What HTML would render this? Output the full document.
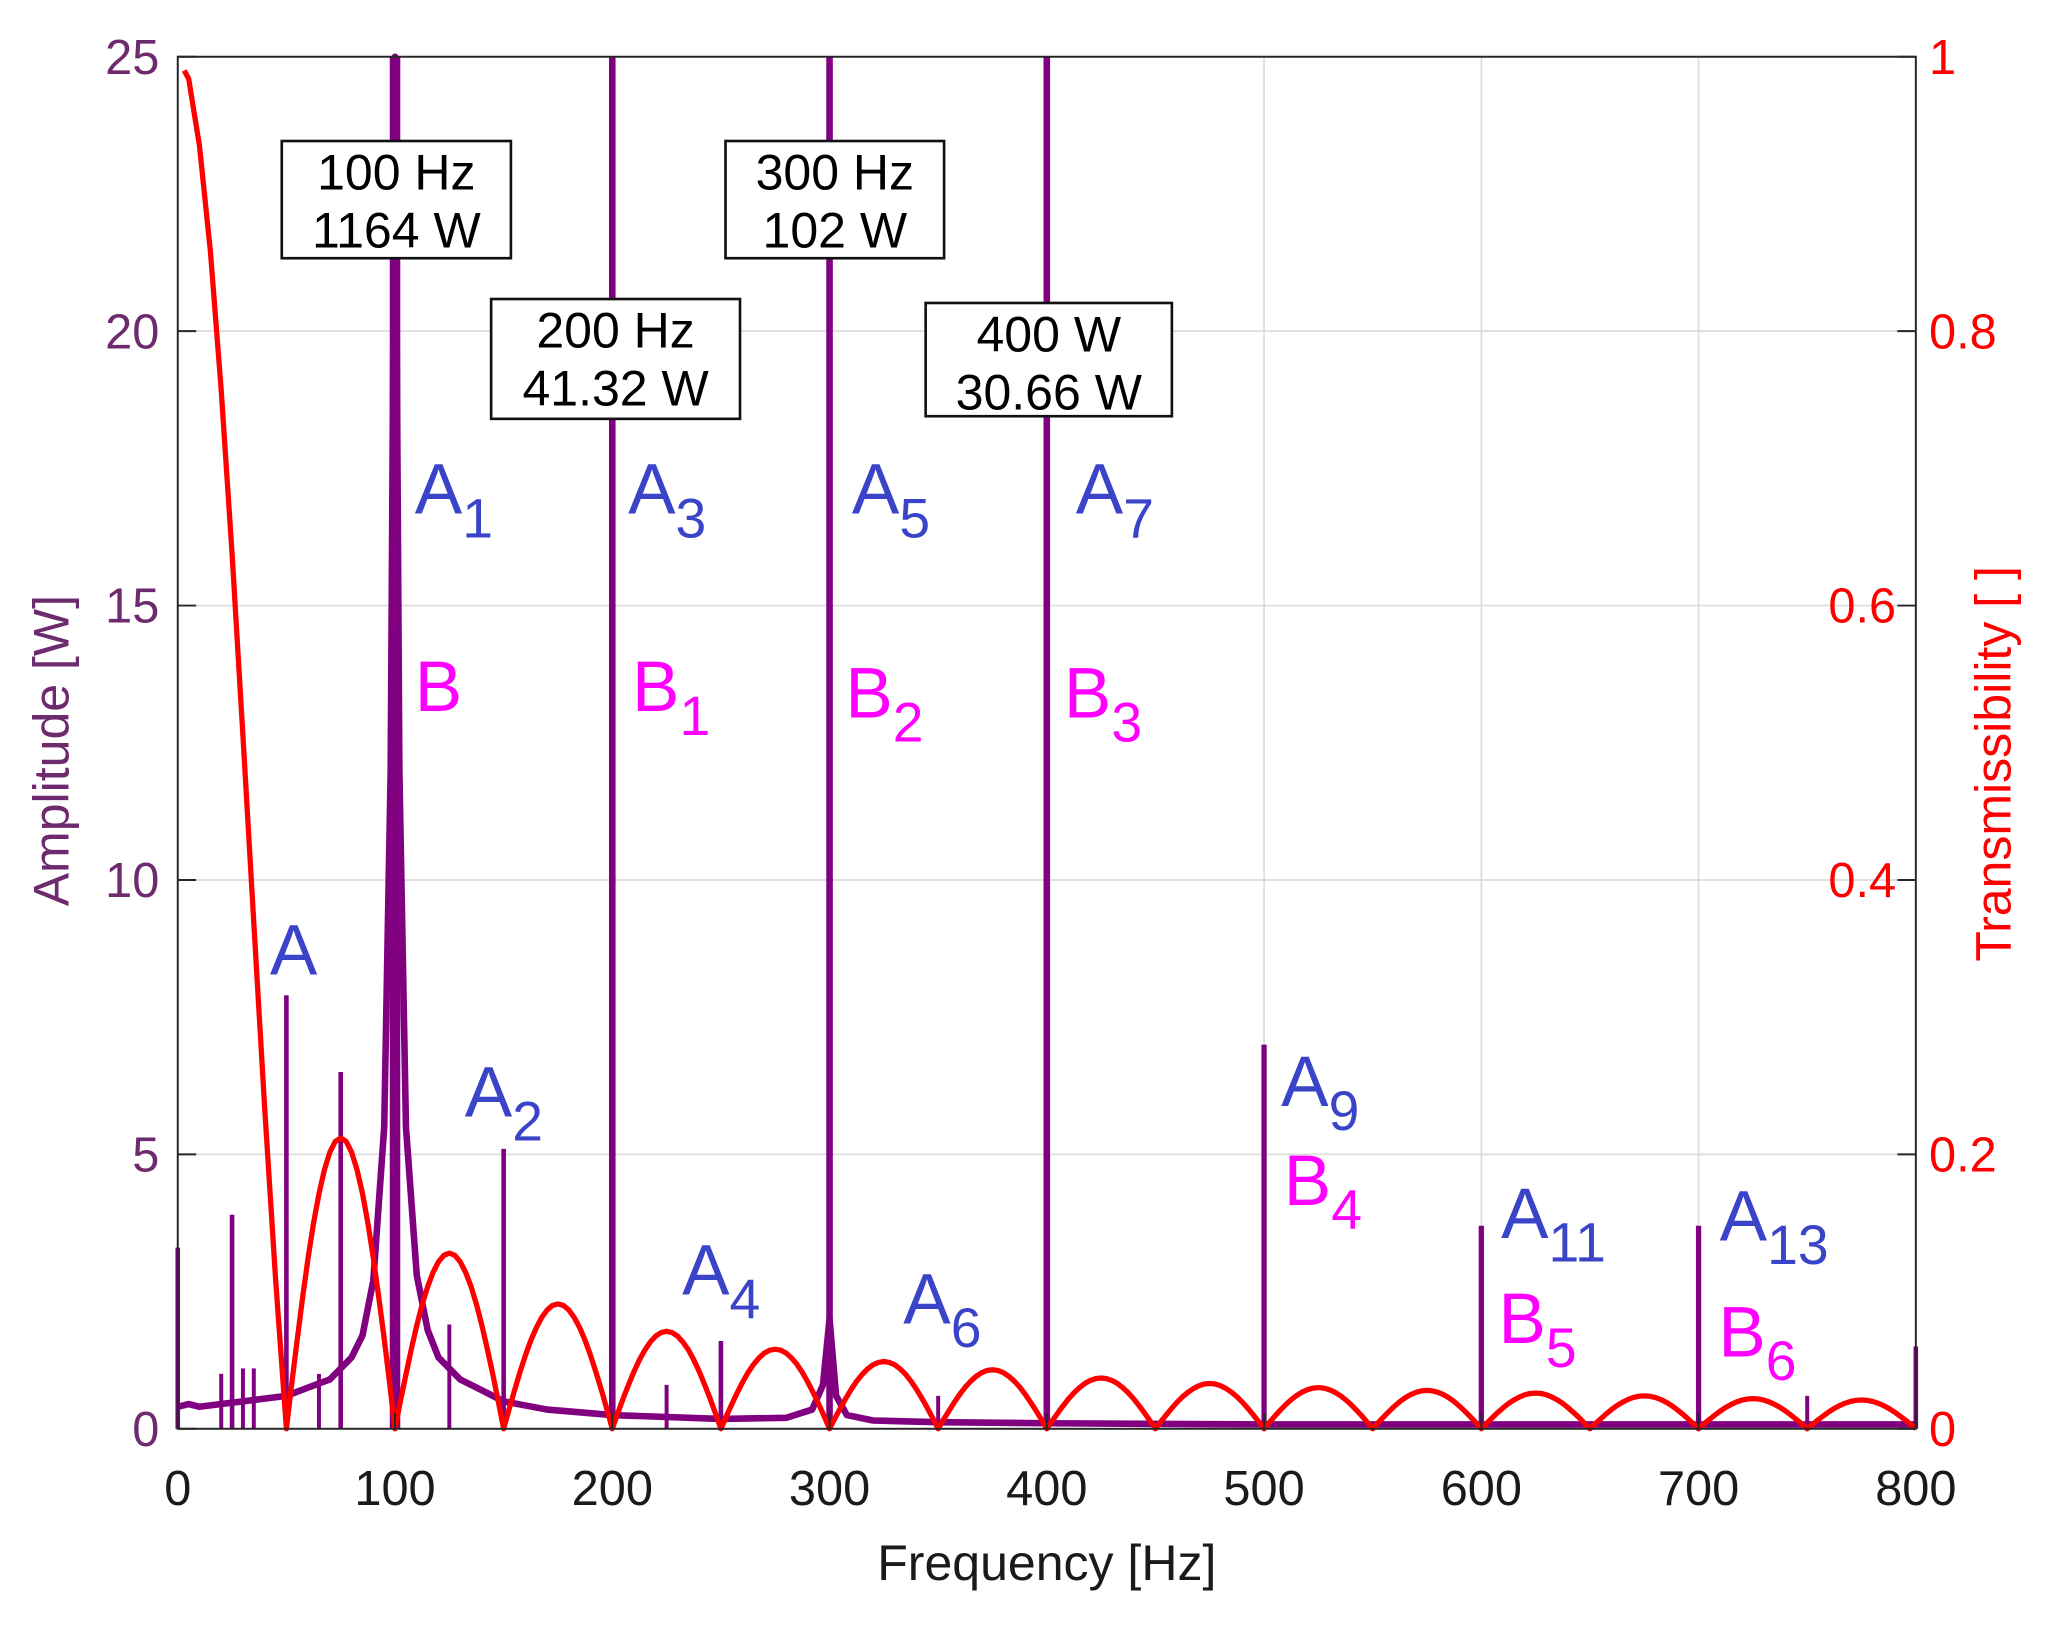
<!DOCTYPE html>
<html><head><meta charset="utf-8"><style>
html,body{margin:0;padding:0;background:#fff;}
svg{display:block;font-family:"Liberation Sans",Arial,sans-serif;}
</style></head><body>
<svg id="chart" width="2062" height="1633" viewBox="0 0 1566 1240" xmlns="http://www.w3.org/2000/svg">
<g id="grid"></g>
<g id="marks"></g>
<g id="axes"></g>
<g id="ann"></g>
</svg>
<script>
const xTicks=[0,100,200,300,400,500,600,700,800];
const yLeftTicks=[0,5,10,15,20,25];
const yRightTicks=[0,0.2,0.4,0.6,0.8,1];
const yRightLabels=["0","0.2","0.4","0.6","0.8","1"];
// amplitude spectrum: background curve (freq, W)
const bgFreq=[0,5,10,20,30,40,50,60,70,80,85,90,95,98,100,102,105,110,115,120,130,140,150,170,200,250,280,292,297,300,303,308,320,350,400,500,600,700,800];
const bgAmp=[0.4,0.45,0.4,0.45,0.5,0.55,0.6,0.75,0.9,1.3,1.7,2.7,5.5,12,25,12,5.5,2.8,1.8,1.3,0.9,0.7,0.5,0.35,0.25,0.18,0.2,0.35,0.8,2.0,0.6,0.25,0.15,0.12,0.1,0.08,0.08,0.08,0.08];
// spikes
const spikeFreq=[0,20,25,30,35,50,65,75,125,150,225,250,350,500,600,700,750,800,200,300,400,100];
const spikeAmp=[3.3,1.0,3.9,1.1,1.1,7.9,1.0,6.5,1.9,5.1,0.8,1.6,0.6,7.0,3.7,3.7,0.6,1.5,25,25,25,25];
const spikeW=[3.5,3,3.5,3,3,3.5,3,3.5,3,3.5,3,3.5,3,4,4,4,3,3.5,5,5,5,8];
// transmissibility main lobe (0..50 Hz)
const mainFreq=[3,5,10,15,20,25,30,35,40,45,50];
const mainVal=[0.99,0.984,0.935,0.858,0.757,0.637,0.505,0.368,0.234,0.109,0];
// side lobe peaks
const lobeCenter=[75,125,175,225,275,325,375,425,475,525,575,625,675,725,775];
const lobePeak=[0.212,0.128,0.091,0.071,0.058,0.049,0.043,0.037,0.033,0.030,0.028,0.026,0.024,0.022,0.021];

const L=135,R=1455,T=43,B=1085;
const X=f=>L+(f-0)/(800)*(R-L);
const YL=v=>B-v/25*(B-T);
const YR=v=>B-v/1*(B-T);
const NS="http://www.w3.org/2000/svg";
function mk(tag,attrs,parent){const e=document.createElementNS(NS,tag);for(const k in attrs)e.setAttribute(k,attrs[k]);parent.appendChild(e);return e;}
const grid=document.getElementById('grid'),marks=document.getElementById('marks'),axes=document.getElementById('axes');

xTicks.forEach(t=>{if(t>0&&t<800){const g=mk('line',{x1:X(t),x2:X(t),y1:T,y2:B,stroke:'#dcdcdc','stroke-width':1.3},grid);

}});
yLeftTicks.forEach(t=>{if(t>0&&t<25){const g=mk('line',{x1:L,x2:R,y1:YL(t),y2:YL(t),stroke:'#dcdcdc','stroke-width':1.3},grid);

}});

let d=bgFreq.map((f,i)=>(i?'L':'M')+X(f).toFixed(1)+','+YL(Math.min(bgAmp[i],25.2)).toFixed(1)).join(' ');
const bg=mk('path',{d:d,fill:'none',stroke:'#800080','stroke-width':5,'stroke-linejoin':'round'},marks);


spikeFreq.forEach((f,i)=>{const s=mk('line',{x1:X(f),x2:X(f),y1:YL(0),y2:YL(spikeAmp[i]),stroke:'#800080','stroke-width':spikeW[i]},marks);

});

let td=mainFreq.map((f,i)=>(i?'L':'M')+X(f).toFixed(1)+','+YR(mainVal[i]).toFixed(1)).join(' ');
lobeCenter.forEach((c,i)=>{for(let k=0;k<=20;k++){const f=c-25+k*2.5;const v=lobePeak[i]*Math.sin(Math.PI*k/20);td+=' L'+X(f).toFixed(1)+','+YR(v).toFixed(1);}});
const tr=mk('path',{d:td,fill:'none',stroke:'#ff0000','stroke-width':4,'stroke-linejoin':'round'},marks);



const box=mk('rect',{x:L,y:T,width:R-L,height:B-T,fill:'none',stroke:'#262626','stroke-width':1.5},axes);


xTicks.forEach(t=>{const tk=mk('line',{x1:X(t),x2:X(t),y1:B,y2:B-12,stroke:'#262626','stroke-width':1.5},axes);


const tx=mk('text',{x:X(t),y:B+58,'font-size':37,'text-anchor':'middle',fill:'#1a1a1a'},axes);tx.textContent=t;

});
yLeftTicks.forEach(t=>{const tk=mk('line',{x1:L,x2:L+14,y1:YL(t),y2:YL(t),stroke:'#262626','stroke-width':1.5},axes);


const tx=mk('text',{x:L-14,y:YL(t)+13,'font-size':37,'text-anchor':'end',fill:'#6e2a6e'},axes);tx.textContent=t;

});
yRightTicks.forEach((t,i)=>{const tk=mk('line',{x1:R,x2:R-14,y1:YR(t),y2:YR(t),stroke:'#262626','stroke-width':1.5},axes);


const inside=(t>0.3&&t<0.7);
const tx=mk('text',{x:inside?R-15:R+10,y:YR(t)+13,'font-size':37,'text-anchor':inside?'end':'start',fill:'#ff0000'},axes);tx.textContent=yRightLabels[i];

});
</script>
<script>
(function(){
const NS="http://www.w3.org/2000/svg";const svg=document.getElementById('chart');
function t(x,y,s,fill,txt,name,anchor,rot){const e=document.createElementNS(NS,'text');e.setAttribute('x',x);e.setAttribute('y',y);e.setAttribute('font-size',s);e.setAttribute('fill',fill);e.setAttribute('text-anchor',anchor||'start');if(rot)e.setAttribute('transform',rot);e.textContent=txt;


svg.appendChild(e);return e;}
t(795,1200,38,'#1a1a1a','Frequency [Hz]','x-axis-title','middle');
t(52,570,38,'#6e2a6e','Amplitude [W]','y-left-axis-title','middle','rotate(-90 52 570)');
t(1527,580,38,'#ff0000','Transmissibility [ ]','y-right-axis-title','middle','rotate(-90 1527 580)');
const boxes=[[214,107,174,89,'100 Hz','1164 W'],[373,227,189,91,'200 Hz','41.32 W'],[551,107,166,89,'300 Hz','102 W'],[703,230,187,86,'400 W','30.66 W']];
boxes.forEach(b=>{const r=document.createElementNS(NS,'rect');r.setAttribute('x',b[0]);r.setAttribute('y',b[1]);r.setAttribute('width',b[2]);r.setAttribute('height',b[3]);r.setAttribute('fill','#fff');r.setAttribute('stroke','#111');r.setAttribute('stroke-width',2);


svg.appendChild(r);
const cx=b[0]+b[2]/2;t(cx,b[1]+37,38,'#000',b[4],'annotation-frequency','middle');t(cx,b[1]+81,38,'#000',b[5],'annotation-power','middle');});
const blue='#3a44c8',mag='#ff00ff';
const labs=[[205,740,'A','',blue],[315,390,'A','1',blue],[477,390,'A','3',blue],[647,390,'A','5',blue],[817,390,'A','7',blue],[353,848,'A','2',blue],[518,983,'A','4',blue],[686,1005,'A','6',blue],[973,840,'A','9',blue],[1140,940,'A','11',blue],[1306,942,'A','13',blue],
[315,540,'B','',mag],[480,540,'B','1',mag],[642,545,'B','2',mag],[808,545,'B','3',mag],[975,915,'B','4',mag],[1138,1020,'B','5',mag],[1305,1030,'B','6',mag]];
labs.forEach(l=>{const e=document.createElementNS(NS,'text');e.setAttribute('x',l[0]);e.setAttribute('y',l[1]);e.setAttribute('font-size',54);e.setAttribute('fill',l[4]);


e.textContent=l[2];if(l[3]){const s=document.createElementNS(NS,'tspan');s.setAttribute('font-size',42);s.setAttribute('dy',18);s.textContent=l[3];e.appendChild(s);}svg.appendChild(e);});
})();
</script>
</body></html>
